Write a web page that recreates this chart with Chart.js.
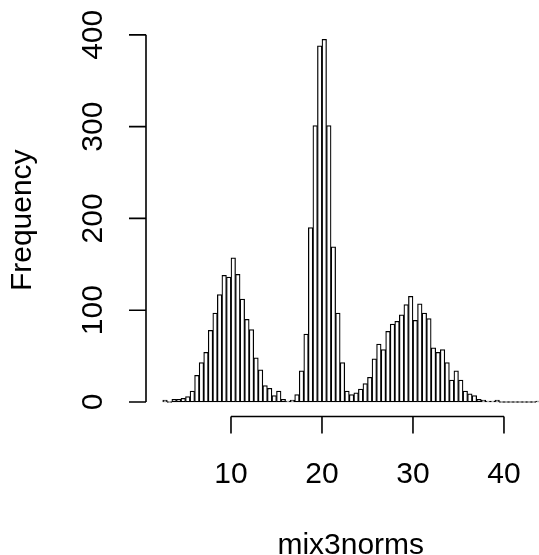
<!DOCTYPE html>
<html>
<head>
<meta charset="utf-8">
<script src="https://cdn.jsdelivr.net/npm/chart.js@4.4.1/dist/chart.umd.min.js"></script>
<style>
  html, body { margin: 0; padding: 0; background: #fff; }
</style>
</head>
<body>
<canvas id="hist" width="539" height="555"></canvas>
<script>
// histogram breaks: 2.5, 3.0, ... 44.0 (width 0.5)
const BIN_START = 2.5;
const BIN_WIDTH = 0.5;
const counts = [
    2, 0, 3, 3, 4, 6, 12, 29, 43, 54,
    78, 97, 117, 138, 136, 157, 139, 112, 90, 79,
    48, 35, 18, 15, 7, 12, 3, 1, 2, 8,
    34, 74, 190, 301, 388, 395, 301, 169, 97, 43,
    12, 8, 10, 14, 20, 27, 47, 63, 57, 77,
    85, 88, 95, 106, 115, 89, 107, 97, 91, 59,
    54, 57, 43, 24, 34, 24, 12, 9, 7, 3,
    2, 1, 1, 2, 0, 0, 0, 0, 0, 0,
    0, 0, 1,
];
const xTicks = [10, 20, 30, 40];
const yTicks = [0, 100, 200, 300, 400];
const xTitle = 'mix3norms';
const yTitle = 'Frequency';

const FONT = '30px "Liberation Sans", Arial, Helvetica, sans-serif';

const points = counts.map((c, i) => ({ x: BIN_START + BIN_WIDTH * (i + 0.5), y: c }));

// base R style axes: lines only span the tick range
const rAxes = {
    id: 'rAxes',
    afterDraw(chart) {
        const { ctx, chartArea, scales: { x, y } } = chart;
        ctx.save();
        ctx.strokeStyle = '#000';
        ctx.fillStyle = '#000';
        ctx.lineWidth = 1.6;
        ctx.font = FONT;

        // x axis
        const xb = chartArea.bottom;
        ctx.beginPath();
        ctx.moveTo(x.getPixelForValue(xTicks[0]), xb);
        ctx.lineTo(x.getPixelForValue(xTicks[xTicks.length - 1]), xb);
        xTicks.forEach((t) => {
            const px = x.getPixelForValue(t);
            ctx.moveTo(px, xb);
            ctx.lineTo(px, xb + 17);
        });
        ctx.stroke();
        ctx.textAlign = 'center';
        ctx.textBaseline = 'alphabetic';
        xTicks.forEach((t) => ctx.fillText(String(t), x.getPixelForValue(t), xb + 66));
        ctx.fillText(xTitle, (chartArea.left + x.getPixelForValue(45.66)) / 2, xb + 137);

        // y axis
        const yl = chartArea.left;
        ctx.beginPath();
        ctx.moveTo(yl, y.getPixelForValue(yTicks[0]));
        ctx.lineTo(yl, y.getPixelForValue(yTicks[yTicks.length - 1]));
        yTicks.forEach((t) => {
            const py = y.getPixelForValue(t);
            ctx.moveTo(yl, py);
            ctx.lineTo(yl - 17, py);
        });
        ctx.stroke();
        yTicks.forEach((t) => {
            ctx.save();
            ctx.translate(yl - 44, y.getPixelForValue(t));
            ctx.rotate(-Math.PI / 2);
            ctx.fillText(String(t), 0, 0);
            ctx.restore();
        });
        ctx.save();
        ctx.translate(yl - 115, (chartArea.top + chartArea.bottom) / 2);
        ctx.rotate(-Math.PI / 2);
        ctx.fillText(yTitle, 0, 0);
        ctx.restore();

        ctx.restore();
    },
};

new Chart(document.getElementById('hist'), {
    type: 'bar',
    data: {
        datasets: [{
            label: yTitle,
            data: points,
            backgroundColor: '#fff',
            borderColor: '#000',
            borderWidth: 1.25,
            borderSkipped: false,
            barPercentage: 1,
            categoryPercentage: 1,
            minBarLength: 1,
        }],
    },
    options: {
        responsive: false,
        animation: false,
        devicePixelRatio: 1,
        layout: { padding: { left: 146, top: 24, right: 0, bottom: 138.5 } },
        scales: {
            x: { type: 'linear', offset: false, min: 0.66, max: 43.85, display: false },
            y: { min: -15.8, max: 411.8, display: false },
        },
        plugins: {
            legend: { display: false },
            tooltip: { enabled: false },
        },
    },
    plugins: [rAxes],
});
</script>
</body>
</html>
